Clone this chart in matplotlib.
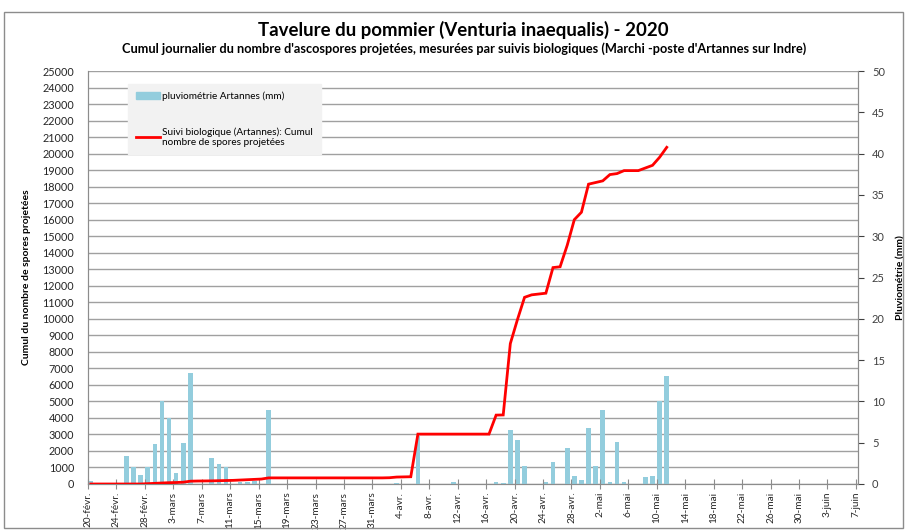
import numpy as np
import pandas as pd
import matplotlib
matplotlib.use("Agg")
import matplotlib.pyplot as plt
from matplotlib.ticker import MultipleLocator
from matplotlib.patches import Rectangle, Patch
from matplotlib.lines import Line2D

plt.rcParams['font.family'] = ['Lato', 'DejaVu Sans']

start = pd.Timestamp("2020-02-20")

# pluviometrie Artannes (mm), jours avec pluie
rain_dates = ["2020-02-20", "2020-02-25", "2020-02-26", "2020-02-27", "2020-02-28",
              "2020-02-29", "2020-03-01", "2020-03-02", "2020-03-03", "2020-03-04",
              "2020-03-05", "2020-03-08", "2020-03-09", "2020-03-10", "2020-03-12",
              "2020-03-13", "2020-03-14", "2020-03-16", "2020-04-03", "2020-04-06",
              "2020-04-11", "2020-04-17", "2020-04-18", "2020-04-19", "2020-04-20",
              "2020-04-21", "2020-04-24", "2020-04-25", "2020-04-27", "2020-04-28",
              "2020-04-29", "2020-04-30", "2020-05-01", "2020-05-02", "2020-05-03",
              "2020-05-04", "2020-05-05", "2020-05-08", "2020-05-09", "2020-05-10",
              "2020-05-11"]
rain_mm = [0.4, 3.4, 2.0, 1.1, 2.1,
           4.9, 10.0, 8.0, 1.3, 5.0,
           13.4, 3.1, 2.4, 2.0, 0.3,
           0.2, 0.4, 9.0, 0.1, 5.8,
           0.2, 0.2, 0.1, 6.5, 5.3,
           2.2, 0.2, 2.7, 4.4, 1.0,
           0.5, 6.8, 2.2, 9.0, 0.2,
           5.1, 0.2, 0.9, 1.0, 10.0,
           13.1]

# cumul des spores projetees, du 20 fevrier au 11 mai
spore_cumul = [0, 0, 0, 0, 0, 0, 0, 0, 20, 40,
               60, 80, 90, 110, 170, 180, 185, 190, 200, 210,
               220, 240, 260, 280, 300, 370, 370, 370, 370, 370,
               370, 370, 370, 370, 370, 370, 370, 370, 370, 370,
               370, 370, 380, 420, 430, 440, 3020, 3020, 3020, 3020,
               3020, 3020, 3020, 3020, 3020, 3020, 3020, 4170, 4180, 8500,
               9950, 11300, 11450, 11500, 11550, 13100, 13150, 14450, 16000, 16450,
               18150, 18250, 18350, 18730, 18790, 18970, 18970, 18970, 19130, 19290,
               19780, 20380]

tick_labels = ["20-févr.", "24-févr.", "28-févr.", "3-mars", "7-mars", "11-mars",
               "15-mars", "19-mars", "23-mars", "27-mars", "31-mars", "4-avr.",
               "8-avr.", "12-avr.", "16-avr.", "20-avr.", "24-avr.", "28-avr.",
               "2-mai", "6-mai", "10-mai", "14-mai", "18-mai", "22-mai", "26-mai",
               "30-mai", "3-juin", "7-juin"]

rain_x = np.array([(pd.Timestamp(d) - start).days for d in rain_dates]) + 0.4
spore_x = np.arange(len(spore_cumul)) + 0.4

fig = plt.figure(figsize=(9.07, 5.30), dpi=100)
fig.patches.append(Rectangle((4 / 907, 2 / 530), 899 / 907, 516 / 530,
                             transform=fig.transFigure, fill=False,
                             edgecolor="#8c8c8c", linewidth=1))

ax = fig.add_axes([88 / 907, 1 - 484 / 530, 770 / 907, 413 / 530])
ax2 = ax.twinx()

# barres (axe droit)
ax2.bar(rain_x, rain_mm, width=0.65, color="#93cddd", zorder=3,
        label="pluviométrie Artannes (mm)")
ax2.set_ylim(0, 50)
ax2.yaxis.set_major_locator(MultipleLocator(5))
ax2.yaxis.set_minor_locator(MultipleLocator(2))
ax2.yaxis.remove_overlapping_locs = False
ax2.grid(which="minor", axis="y", color="#a0a0a0", linewidth=1, zorder=0)
ax2.tick_params(axis="y", which="minor", length=0)
ax2.tick_params(axis="y", which="major", labelsize=8, colors="#404040",
                length=4, pad=6)
ax2.set_ylabel("Pluviométrie (mm)", fontsize=7.5, fontweight="bold", labelpad=8)

# courbe des spores (axe gauche)
ax.set_zorder(ax2.get_zorder() + 1)
ax.patch.set_visible(False)
ax.plot(spore_x, spore_cumul, color="#ff0000", linewidth=2, zorder=4,
        solid_joinstyle="miter")
ax.set_ylim(0, 25000)
ax.yaxis.set_major_locator(MultipleLocator(1000))
ax.tick_params(axis="y", labelsize=7.8, colors="#262626", length=0, pad=10)
ax.set_ylabel("Cumul du nombre de spores projetées", fontsize=7.5,
              fontweight="bold", labelpad=8)

ax.set_xlim(0, 108.3)
ax.set_xticks(np.arange(0, 109, 4))
ax.set_xticklabels(tick_labels, rotation=90, fontsize=7.2, color="#262626")
ax.tick_params(axis="x", direction="inout", length=7, color="#8c8c8c", pad=2)

for a in (ax, ax2):
    a.spines["top"].set_visible(False)
    for s in ("left", "right", "bottom"):
        a.spines[s].set_color("#8c8c8c")

fig.text(463 / 907, 1 - 30 / 530, "Tavelure du pommier (Venturia inaequalis) - 2020",
         ha="center", va="center", fontsize=13.4, fontweight="bold")
fig.text(464 / 907, 1 - 49 / 530,
         "Cumul journalier du nombre d'ascospores projetées, mesurées par suivis "
         "biologiques (Marchi -poste d'Artannes sur Indre)",
         ha="center", va="center", fontsize=9.2, fontweight="bold")

# legende
handles = [Patch(color="#93cddd"), Line2D([], [], color="#ff0000", linewidth=2)]
labels = ["pluviométrie Artannes (mm)",
          "Suivi biologique (Artannes): Cumul\nnombre de spores projetées"]
leg = ax.legend(handles, labels, loc="upper left",
                bbox_to_anchor=(40 / 770, (484 - 84) / 413), fontsize=7.2,
                frameon=True, fancybox=False, handlelength=2.4,
                labelspacing=2.6, borderpad=0.75, handletextpad=0.3,
                borderaxespad=0)
leg.get_frame().set_facecolor("#f2f2f2")
leg.get_frame().set_edgecolor("#f2f2f2")
leg.get_frame().set_alpha(1)

fig.savefig("out.png", dpi=100)
